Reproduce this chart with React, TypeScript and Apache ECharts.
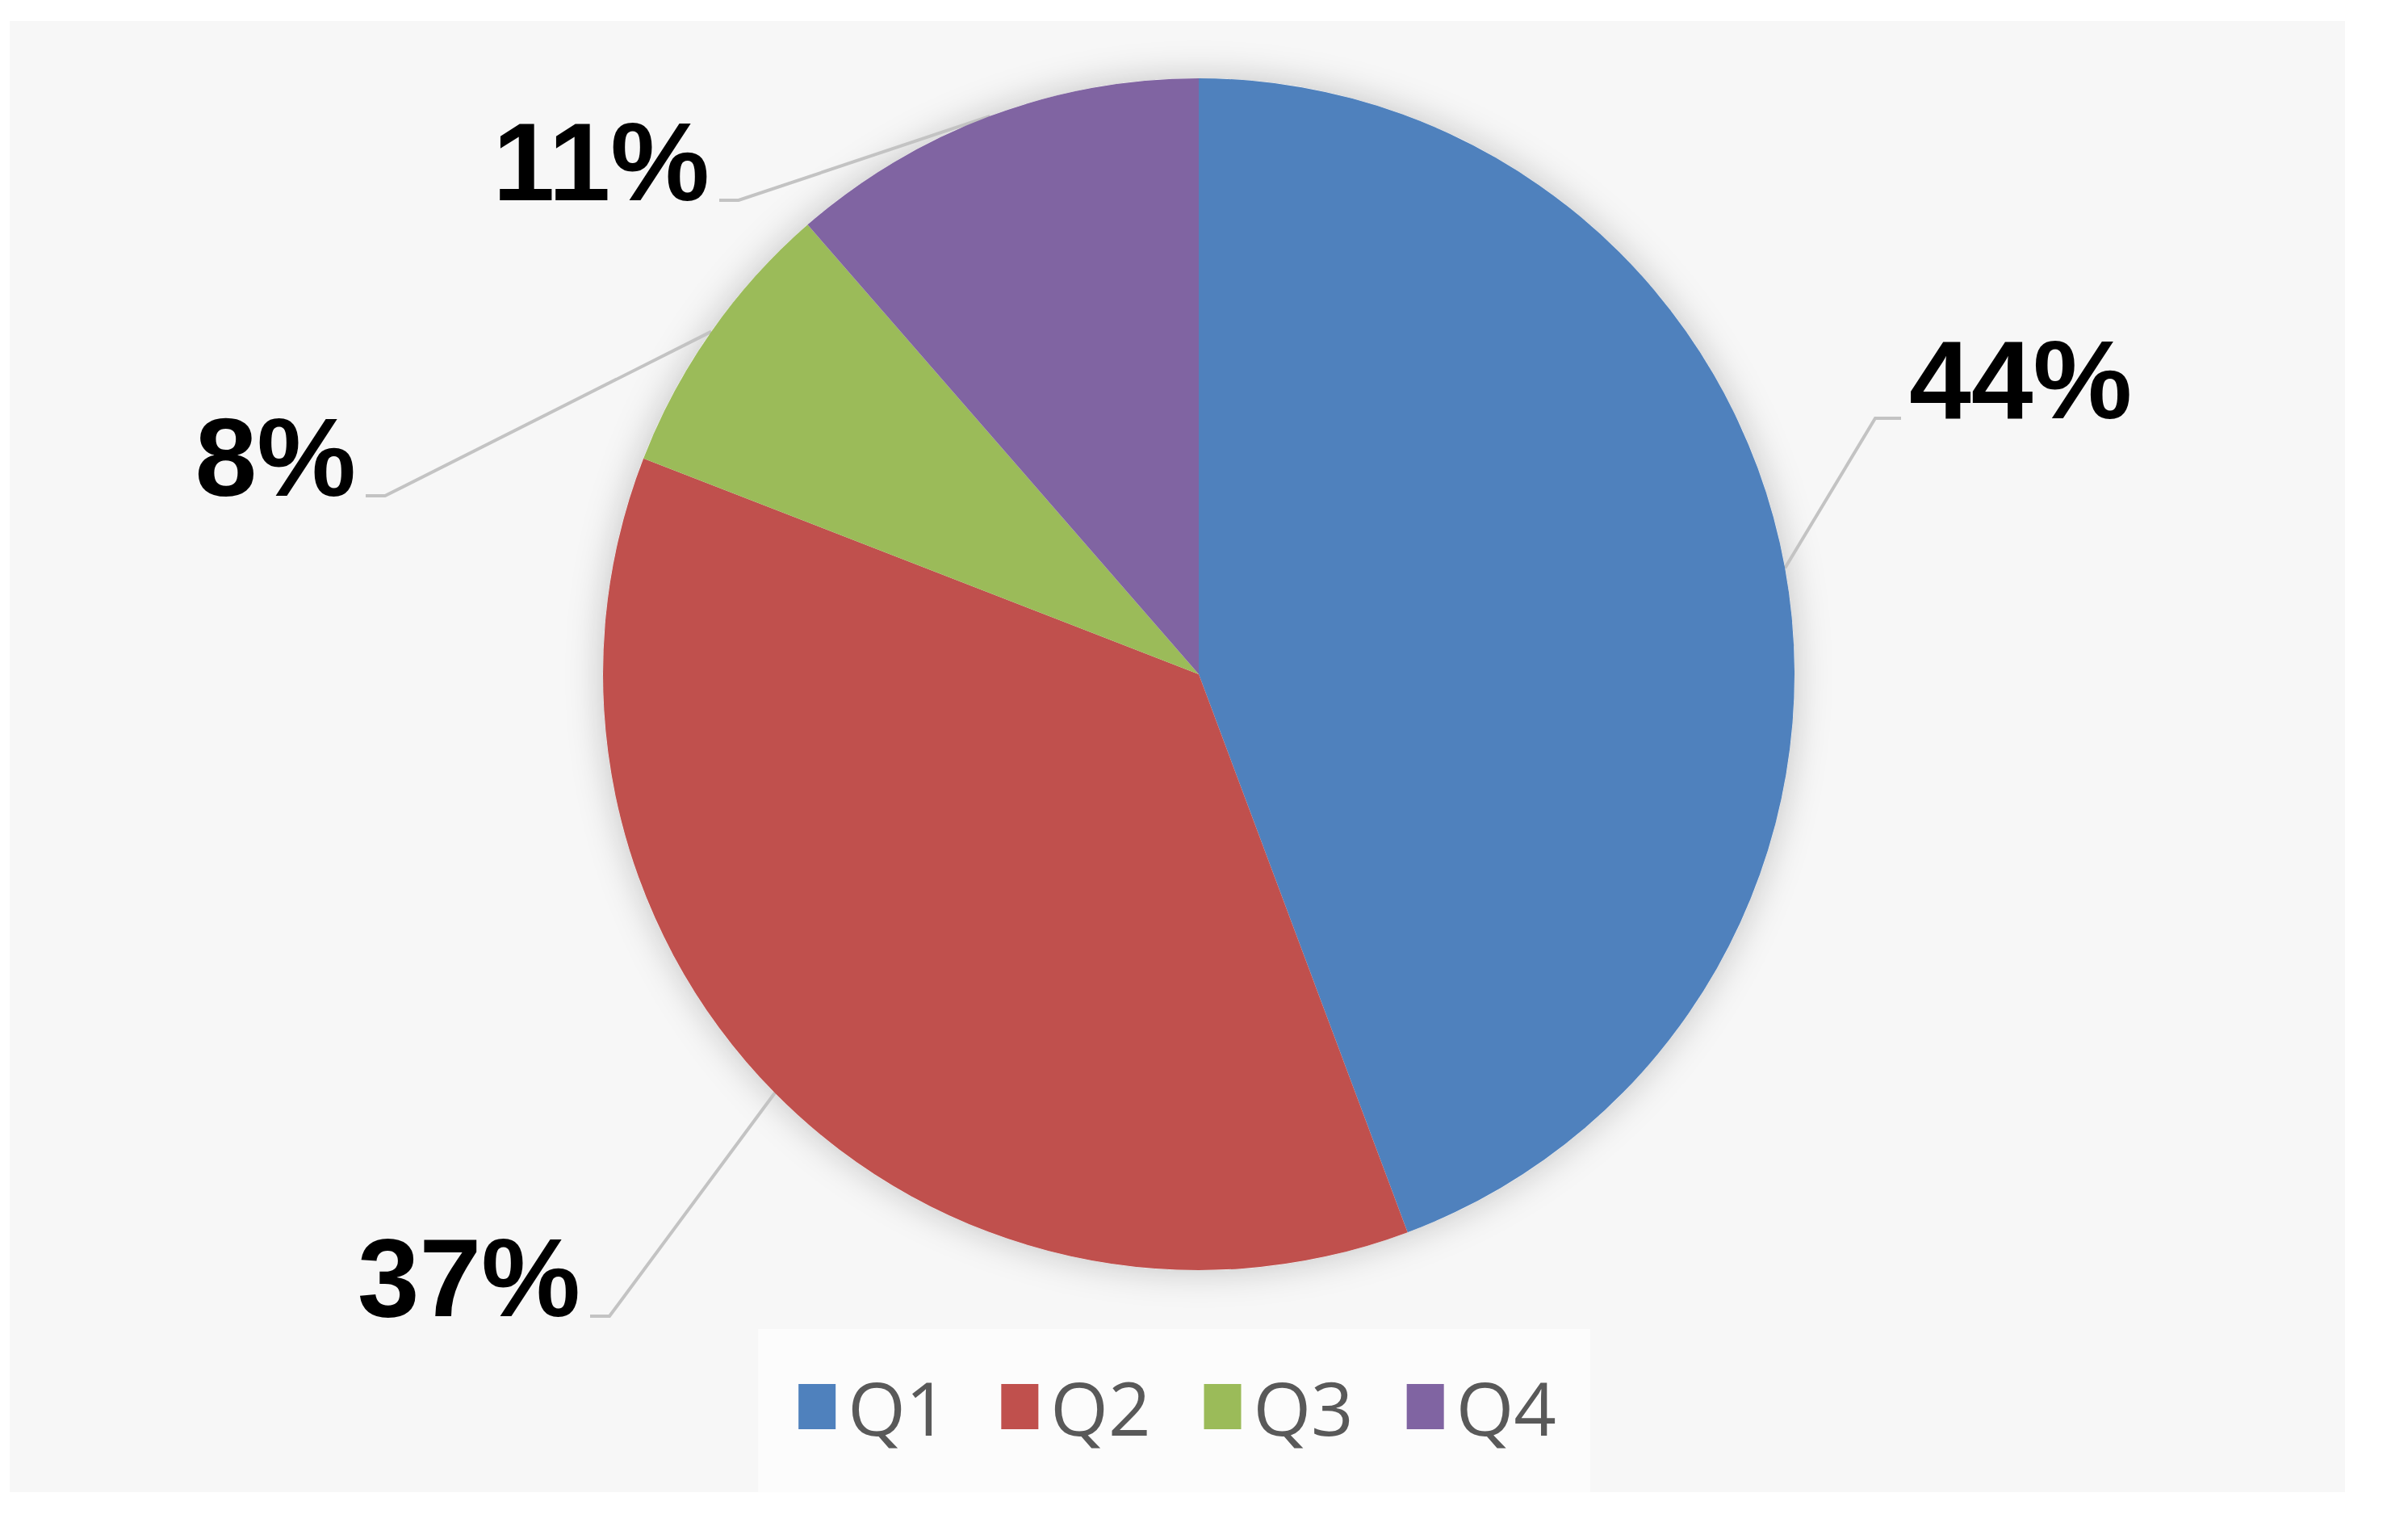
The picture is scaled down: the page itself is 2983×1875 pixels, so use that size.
import React, { useEffect, useRef } from "react";
import * as echarts from "echarts";

// ---- data ----
const categories = ["Q1", "Q2", "Q3", "Q4"];
const values = [44.3, 36.6, 7.7, 11.4];
const colors = ["#4F81BD", "#C0504D", "#9BBB59", "#8064A2"];

// ---- label placement (chart px): edge of label nearest the pie, and label centre y ----
const labelAnchorX = [2353, 707, 429, 867];
const labelAnchorY = [444, 1556, 540, 174];
const labelSide = ["right", "left", "left", "left"];

const CHART_W = 2893;
const CHART_H = 1822;
const PIE_CX = 1473;
const PIE_CY = 809;
const PIE_R = 738;

export default function App() {
  const ref = useRef<HTMLDivElement>(null);

  useEffect(() => {
    document.body.style.margin = "0";
    const chart = echarts.init(ref.current as HTMLDivElement, null, { renderer: "svg" });

    const total = values.reduce((a, b) => a + b, 0);
    const edgePts: number[][] = [];
    let acc = 0;
    values.forEach((v) => {
      const mid = ((acc + v / 2) / total) * 2 * Math.PI;
      acc += v;
      edgePts.push([PIE_CX + PIE_R * Math.sin(mid), PIE_CY - PIE_R * Math.cos(mid)]);
    });

    const option: any = {
      animation: false,
      backgroundColor: "transparent",
      color: colors,
      legend: {
        data: categories,
        left: "center",
        top: 1620,
        orient: "horizontal",
        icon: "rect",
        itemWidth: 46,
        itemHeight: 56,
        itemGap: 66,
        backgroundColor: "#fcfcfc",
        padding: [50, 42, 62, 50],
        textStyle: {
          fontSize: 92,
          color: "#595959",
          fontFamily: "Open Sans",
          padding: [0, 0, 0, 10],
        },
      },
      series: [
        {
          type: "pie",
          silent: true,
          center: [PIE_CX, PIE_CY],
          radius: PIE_R,
          z: 1,
          label: { show: false },
          labelLine: { show: false },
          itemStyle: {
            color: "#f7f7f7",
            shadowBlur: 45,
            shadowColor: "rgba(0,0,0,0.22)",
          },
          data: [{ value: 1, name: "_shadow" }],
        },
        {
          type: "pie",
          z: 2,
          center: [PIE_CX, PIE_CY],
          radius: PIE_R,
          startAngle: 90,
          clockwise: true,
          percentPrecision: 0,
          avoidLabelOverlap: false,
          data: categories.map((name, i) => ({ name, value: values[i] })),
          itemStyle: { borderWidth: 0 },
          label: {
            show: true,
            position: "outside",
            formatter: "{d}%",
            fontFamily: "Liberation Sans",
            fontWeight: "bold",
            fontSize: 138,
            color: "#000000",
          },
          labelLine: {
            show: true,
            length: 40,
            length2: 30,
            lineStyle: { color: "#c3c3c3", width: 4 },
          },
          emphasis: { disabled: true },
          labelLayout: (params: any) => {
            const i = params.dataIndex;
            const x = labelAnchorX[i];
            const y = labelAnchorY[i];
            const right = labelSide[i] === "right";
            const ly = y + 48;
            const p3 = right ? [x - 10, ly] : [x + 12, ly];
            const p2 = right ? [x - 42, ly] : [x + 36, ly];
            return {
              x,
              y,
              align: right ? "left" : "right",
              verticalAlign: "middle",
              labelLinePoints: [edgePts[i], p2, p3],
            };
          },
        },
      ],
    };

    chart.setOption(option);
    return () => chart.dispose();
  }, []);

  return (
    <div
      style={{
        position: "fixed",
        left: 0,
        top: 0,
        width: 2983,
        height: 1875,
        background: "#ffffff",
      }}
    >
      <div
        ref={ref}
        style={{
          position: "absolute",
          left: 12,
          top: 26,
          width: CHART_W,
          height: CHART_H,
          background: "#f7f7f7",
        }}
      />
    </div>
  );
}
